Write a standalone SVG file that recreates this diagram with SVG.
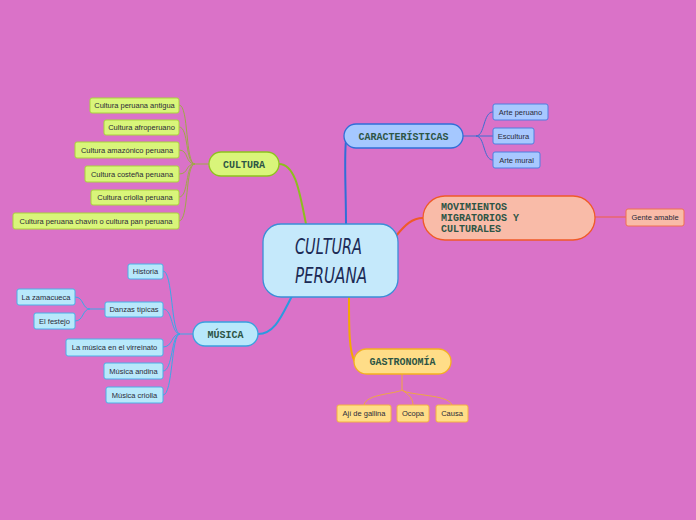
<svg xmlns="http://www.w3.org/2000/svg" width="696" height="520" viewBox="0 0 696 520">
<style>
.mt{font-family:"Liberation Mono","DejaVu Sans Mono",monospace;font-weight:bold;font-size:10px;fill:#2D5545}
.ct{font-family:"Liberation Sans",Arial,sans-serif;font-size:7.5px;fill:#2A2A38}
.cen{font-family:"DejaVu Sans Condensed","DejaVu Sans",sans-serif;font-size:21px;font-style:italic;fill:#1B2A55}
.g rect{fill:#D9F57A;stroke:#A9D33C;stroke-width:1}
.b rect{fill:#A8C8FF;stroke:#4F7FE0;stroke-width:1}
.o rect{fill:#F9BBA8;stroke:#F07050;stroke-width:1}
.s rect{fill:#B8E8FB;stroke:#4AB0E8;stroke-width:1}
.y rect{fill:#FFDD88;stroke:#F5B040;stroke-width:1}
</style>
<rect width="696" height="520" fill="#DA72C8"/>
<g id="connectors" fill="none">
<path d="M306,224 C300,195 296,164 279,164" stroke="#8DBE1E" stroke-width="2"/>
<path d="M346,224 C346,190 344,160 346,140" stroke="#2F6FD8" stroke-width="2"/>
<path d="M396,236 C405,225 412,218 423,218" stroke="#F05A28" stroke-width="2"/>
<path d="M258,334 C275,334 282,315 292,296" stroke="#2A9AE0" stroke-width="2"/>
<path d="M349,297 C349,330 349,352 355,362" stroke="#F5A800" stroke-width="2"/>
<g stroke="#A0A848" stroke-width="1">
<path d="M209,164 L195,164"/>
<path d="M195,164 C185,164 189,105 179,105"/>
<path d="M195,164 C185,164 189,127 179,127"/>
<path d="M195,164 C185,164 189,150 179,150"/>
<path d="M195,164 C185,164 189,174 179,174"/>
<path d="M195,164 C185,164 189,197 179,197"/>
<path d="M195,164 C185,164 189,221 179,221"/>
</g>
<g stroke="#3B6FD0" stroke-width="1">
<path d="M463,136 L476,136"/>
<path d="M476,136 C485,136 483,112 493,112"/>
<path d="M476,136 L493,136"/>
<path d="M476,136 C485,136 483,160 493,160"/>
</g>
<path d="M595,217 L626,217" stroke="#F06040" stroke-width="1"/>
<g stroke="#3AA8E8" stroke-width="1">
<path d="M193,334 L180,334"/>
<path d="M180,334 C171,334 173,271 163,271"/>
<path d="M180,334 C171,334 173,309 163,309"/>
<path d="M180,334 C171,334 173,347 163,347"/>
<path d="M180,334 C171,334 173,371 163,371"/>
<path d="M180,334 C171,334 173,395 163,395"/>
<path d="M105,309 L90,309"/>
<path d="M90,309 C82,309 84,297 75,297"/>
<path d="M90,309 C82,309 84,321 75,321"/>
</g>
<g stroke="#F0A840" stroke-width="1">
<path d="M402,374 L402,390"/>
<path d="M402,390 C395,394 366,394 364,405"/>
<path d="M402,390 C408,394 413,398 413,405"/>
<path d="M402,390 C410,396 448,394 452,405"/>
</g>
</g>
<g id="central">
<rect x="263" y="224" width="135" height="73" rx="18" fill="#C5E9FB" stroke="#3A8FD8" stroke-width="1.3"/>
<text class="cen" x="295" y="254" textLength="67" lengthAdjust="spacingAndGlyphs">CULTURA</text>
<text class="cen" x="295" y="283" textLength="72" lengthAdjust="spacingAndGlyphs">PERUANA</text>
</g>
<g id="cultura">
<rect x="209" y="152" width="70" height="24" rx="12" fill="#D9F57A" stroke="#8DC21F" stroke-width="1.3"/>
<text class="mt" x="244" y="167.5" text-anchor="middle">CULTURA</text>
</g>
<g id="cultura-children" class="g">
<g id="c1"><rect x="90" y="98" width="89" height="15" rx="2"/><text class="ct" x="134.5" y="108" text-anchor="middle">Cultura peruana antigua</text></g>
<g id="c2"><rect x="104" y="120" width="75" height="15" rx="2"/><text class="ct" x="141.5" y="130" text-anchor="middle">Cultura afroperuano</text></g>
<g id="c3"><rect x="75" y="142" width="104" height="16" rx="2"/><text class="ct" x="127" y="152.5" text-anchor="middle">Cultura amazónico peruana</text></g>
<g id="c4"><rect x="85" y="166" width="94" height="16" rx="2"/><text class="ct" x="132" y="176.5" text-anchor="middle">Cultura costeña peruana</text></g>
<g id="c5"><rect x="91" y="190" width="88" height="15" rx="2"/><text class="ct" x="135" y="200" text-anchor="middle">Cultura criolla peruana</text></g>
<g id="c6"><rect x="13" y="213" width="166" height="16" rx="2"/><text class="ct" x="96" y="223.5" text-anchor="middle">Cultura peruana chavín o cultura pan peruana</text></g>
</g>
<g id="caracteristicas">
<rect x="344" y="124" width="119" height="24" rx="12" fill="#A5C8FF" stroke="#2F6FD8" stroke-width="1.3"/>
<text class="mt" x="403.5" y="139.5" text-anchor="middle">CARACTERÍSTICAS</text>
</g>
<g id="car-children" class="b">
<g id="k1"><rect x="493" y="104" width="55" height="16" rx="2"/><text class="ct" x="520.5" y="114.5" text-anchor="middle">Arte peruano</text></g>
<g id="k2"><rect x="493" y="128" width="41" height="16" rx="2"/><text class="ct" x="513.5" y="138.5" text-anchor="middle">Escultura</text></g>
<g id="k3"><rect x="493" y="152" width="47" height="16" rx="2"/><text class="ct" x="516.5" y="162.5" text-anchor="middle">Arte mural</text></g>
</g>
<g id="movimientos">
<rect x="423" y="196" width="172" height="44" rx="22" fill="#F9BBA8" stroke="#F05A28" stroke-width="1.3"/>
<text class="mt" x="441" y="210">MOVIMIENTOS</text>
<text class="mt" x="441" y="221">MIGRATORIOS Y</text>
<text class="mt" x="441" y="232">CULTURALES</text>
</g>
<g id="mov-children" class="o">
<g id="m1"><rect x="626" y="209" width="58" height="17" rx="2"/><text class="ct" x="655" y="220" text-anchor="middle">Gente amable</text></g>
</g>
<g id="musica">
<rect x="193" y="322" width="65" height="24" rx="12" fill="#B8E8FB" stroke="#3AA0E0" stroke-width="1.3"/>
<text class="mt" x="225.5" y="337.5" text-anchor="middle">MÚSICA</text>
</g>
<g id="musica-children" class="s">
<g id="u1"><rect x="128" y="264" width="35" height="15" rx="2"/><text class="ct" x="145.5" y="274" text-anchor="middle">Historia</text></g>
<g id="u2"><rect x="105" y="302" width="58" height="15" rx="2"/><text class="ct" x="134" y="312" text-anchor="middle">Danzas típicas</text></g>
<g id="u3"><rect x="17" y="289" width="58" height="16" rx="2"/><text class="ct" x="46" y="299.5" text-anchor="middle">La zamacueca</text></g>
<g id="u4"><rect x="34" y="313" width="41" height="16" rx="2"/><text class="ct" x="54.5" y="323.5" text-anchor="middle">El festejo</text></g>
<g id="u5"><rect x="66" y="339" width="97" height="17" rx="2"/><text class="ct" x="114.5" y="350" text-anchor="middle">La música en el virreinato</text></g>
<g id="u6"><rect x="104" y="363" width="59" height="16" rx="2"/><text class="ct" x="133.5" y="373.5" text-anchor="middle">Música andina</text></g>
<g id="u7"><rect x="106" y="387" width="57" height="16" rx="2"/><text class="ct" x="134.5" y="397.5" text-anchor="middle">Música criolla</text></g>
</g>
<g id="gastronomia">
<rect x="354" y="349" width="97" height="25" rx="12.5" fill="#FFDD88" stroke="#F5B020" stroke-width="1.3"/>
<text class="mt" x="402.5" y="365" text-anchor="middle">GASTRONOMÍA</text>
</g>
<g id="gas-children" class="y">
<g id="g1"><rect x="337" y="405" width="54" height="17" rx="2"/><text class="ct" x="364" y="416" text-anchor="middle">Ají de gallina</text></g>
<g id="g2"><rect x="397" y="405" width="32" height="17" rx="2"/><text class="ct" x="413" y="416" text-anchor="middle">Ocopa</text></g>
<g id="g3"><rect x="436" y="405" width="32" height="17" rx="2"/><text class="ct" x="452" y="416" text-anchor="middle">Causa</text></g>
</g>
</svg>
